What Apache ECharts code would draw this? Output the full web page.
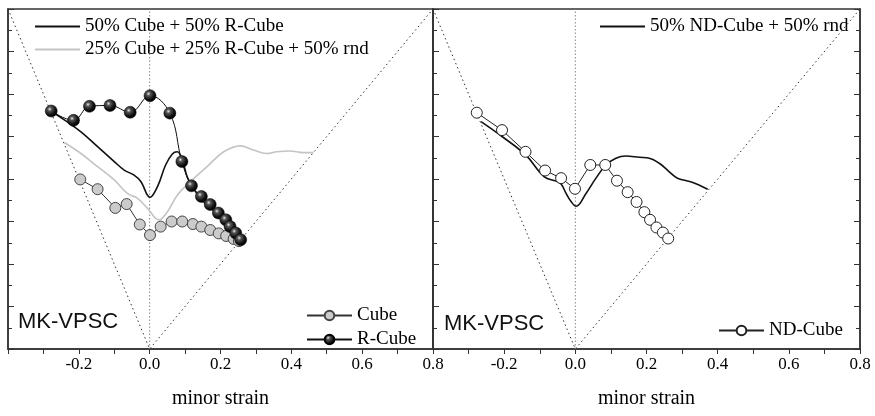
<!DOCTYPE html>
<html>
<head>
<meta charset="utf-8">
<script src="https://cdn.jsdelivr.net/npm/echarts@6.0.0/dist/echarts.min.js"></script>
<style>
  html, body { margin: 0; padding: 0; background: #fff; }
  #flc { width: 875px; height: 416px; }
</style>
</head>
<body>
<div id="flc"></div>
<script>
// left panel: Cube / R-Cube
var cubeX = [-0.196, -0.147, -0.097, -0.065, -0.028, 0.001, 0.031, 0.062, 0.092, 0.122, 0.146, 0.171, 0.195, 0.216, 0.237, 0.252];
var cubeY = [0.399, 0.376, 0.332, 0.341, 0.293, 0.268, 0.288, 0.300, 0.300, 0.294, 0.288, 0.280, 0.272, 0.266, 0.259, 0.254];

var rcubeX = [-0.278, -0.215, -0.170, -0.112, -0.055, 0.001, 0.057, 0.091, 0.118, 0.146, 0.171, 0.194, 0.215, 0.227, 0.243, 0.257];
var rcubeY = [0.560, 0.538, 0.571, 0.573, 0.557, 0.596, 0.555, 0.441, 0.384, 0.359, 0.340, 0.320, 0.304, 0.288, 0.273, 0.257];

var mixX = [-0.278, -0.241, -0.194, -0.147, -0.100, -0.072, -0.044, -0.025, 0.001, 0.022, 0.045, 0.064, 0.078, 0.092, 0.106, 0.120, 0.146, 0.171, 0.194, 0.215, 0.240, 0.257];
var mixY = [0.560, 0.539, 0.511, 0.476, 0.441, 0.421, 0.409, 0.394, 0.357, 0.382, 0.433, 0.459, 0.464, 0.445, 0.405, 0.382, 0.352, 0.333, 0.314, 0.297, 0.273, 0.257];

var rndX = [-0.241, -0.194, -0.147, -0.100, -0.063, -0.035, -0.006, 0.026, 0.050, 0.078, 0.115, 0.162, 0.209, 0.256, 0.293, 0.330, 0.359, 0.396, 0.433, 0.462];
var rndY = [0.486, 0.460, 0.429, 0.398, 0.366, 0.355, 0.331, 0.304, 0.323, 0.362, 0.394, 0.429, 0.464, 0.478, 0.468, 0.460, 0.464, 0.466, 0.462, 0.462];

// right panel: ND-Cube
var ndX = [-0.277, -0.206, -0.140, -0.085, -0.040, -0.001, 0.042, 0.084, 0.117, 0.147, 0.172, 0.194, 0.210, 0.228, 0.246, 0.261];
var ndY = [0.556, 0.515, 0.464, 0.420, 0.402, 0.377, 0.433, 0.433, 0.396, 0.369, 0.346, 0.322, 0.304, 0.286, 0.274, 0.260];

var ndMixX = [-0.265, -0.206, -0.139, -0.087, -0.054, -0.040, -0.026, -0.012, 0.002, 0.030, 0.058, 0.086, 0.114, 0.142, 0.180, 0.208, 0.236, 0.264, 0.287, 0.330, 0.372];
var ndMixY = [0.535, 0.500, 0.456, 0.405, 0.395, 0.388, 0.366, 0.347, 0.336, 0.366, 0.402, 0.433, 0.449, 0.454, 0.451, 0.449, 0.437, 0.417, 0.402, 0.392, 0.376];

// strain path guide lines (uniaxial, plane strain, equibiaxial)
var pathX = [-0.4, 0, 0.8];
var pathY = [0.8, 0, 0.8];
var planeX = [0, 0];
var planeY = [0, 0.8];

var xTicks = ['-0.2', '0.0', '0.2', '0.4', '0.6', '0.8'];

function pairs(xs, ys) {
  var out = [];
  for (var i = 0; i < xs.length; i++) out.push([xs[i], ys[i]]);
  return out;
}

var serif = 'Liberation Serif';
var sphere = {
  type: 'radial', x: 0.38, y: 0.35, r: 0.65,
  colorStops: [
    {offset: 0, color: '#e8e8e8'},
    {offset: 0.25, color: '#555'},
    {offset: 0.7, color: '#111'},
    {offset: 1, color: '#000'}
  ]
};

function xAxisFor(idx) {
  return {
    gridIndex: idx,
    type: 'value',
    min: -0.4,
    max: 0.8,
    interval: 0.2,
    name: 'minor strain',
    nameLocation: 'middle',
    nameGap: 40,
    nameTextStyle: {fontFamily: serif, fontSize: 20, color: '#000'},
    axisLine: {onZero: false, lineStyle: {color: '#333', width: 1.5}},
    axisTick: {show: true, length: 5, lineStyle: {color: '#333'}},
    minorTick: {show: true, splitNumber: 2, length: 5, lineStyle: {color: '#333'}},
    splitLine: {show: false},
    axisLabel: {
      showMinLabel: false,
      margin: 7,
      fontFamily: serif,
      fontSize: 17,
      color: '#000',
      formatter: function (v) {
        var s = v.toFixed(1);
        return xTicks.indexOf(s) >= 0 ? s : '';
      }
    }
  };
}

function yAxisFor(idx, pos) {
  return {
    gridIndex: idx,
    type: 'value',
    position: pos,
    min: 0,
    max: 0.8,
    interval: 0.1,
    axisLine: {show: true, onZero: false, lineStyle: {color: '#333', width: 1.5}},
    axisTick: {show: true, inside: true, length: 6, lineStyle: {color: '#333'}},
    minorTick: {show: true, splitNumber: 2, length: 4, lineStyle: {color: '#333'}},
    splitLine: {show: false},
    axisLabel: {show: false}
  };
}

function guide(idx, xs, ys, color, dash) {
  return {
    type: 'line',
    xAxisIndex: idx,
    yAxisIndex: idx === 0 ? 0 : 1,
    data: pairs(xs, ys),
    symbol: 'none',
    silent: true,
    lineStyle: {color: color, width: 1, type: dash},
    z: 1
  };
}

// plain line in the legend, no marker
function lineOnly(name) {
  return {name: name, itemStyle: {opacity: 0}};
}

var legendText = {fontFamily: serif, fontSize: 19, color: '#000'};

var chart = echarts.init(document.getElementById('flc'));
var option = {
  animation: false,
  backgroundColor: '#fff',
  grid: [
    {left: 8, right: 442, top: 9, bottom: 67, show: true, borderColor: '#333', borderWidth: 1.5},
    {left: 433, right: 15, top: 9, bottom: 67, show: true, borderColor: '#333', borderWidth: 1.5}
  ],
  title: [
    {text: 'MK-VPSC', left: 18, top: 311, padding: 0, textStyle: {fontFamily: 'Liberation Sans', fontSize: 22, fontWeight: 'normal', color: '#111'}},
    {text: 'MK-VPSC', left: 444, top: 313, padding: 0, textStyle: {fontFamily: 'Liberation Sans', fontSize: 22, fontWeight: 'normal', color: '#111'}}
  ],
  legend: [
    {
      data: [lineOnly('50% Cube + 50% R-Cube'), lineOnly('25% Cube + 25% R-Cube + 50% rnd')],
      orient: 'vertical', left: 34, top: 17, itemGap: 4, padding: 0,
      itemWidth: 45, itemHeight: 12, selectedMode: false,
      textStyle: legendText
    },
    {
      data: ['Cube', 'R-Cube'],
      orient: 'vertical', left: 306, top: 306, itemGap: 5, padding: 0,
      itemWidth: 45, itemHeight: 12, selectedMode: false,
      textStyle: legendText
    },
    {
      data: [lineOnly('50% ND-Cube + 50% rnd')],
      orient: 'vertical', left: 599, top: 17, padding: 0,
      itemWidth: 45, itemHeight: 12, selectedMode: false,
      textStyle: legendText
    },
    {
      data: ['ND-Cube'],
      orient: 'vertical', left: 718, top: 321, padding: 0,
      itemWidth: 45, itemHeight: 12, selectedMode: false,
      textStyle: legendText
    }
  ],
  xAxis: [xAxisFor(0), xAxisFor(1)],
  yAxis: [yAxisFor(0, 'left'), yAxisFor(1, 'left'), yAxisFor(1, 'right')],
  series: [
    guide(0, pathX, pathY, '#333', [1.5, 3]),
    guide(0, planeX, planeY, '#888', [1.5, 2]),
    guide(1, pathX, pathY, '#333', [1.5, 3]),
    guide(1, planeX, planeY, '#888', [1.5, 2]),
    {
      name: '25% Cube + 25% R-Cube + 50% rnd',
      type: 'line', xAxisIndex: 0, yAxisIndex: 0,
      data: pairs(rndX, rndY),
      symbol: 'none', smooth: 0.4,
      lineStyle: {color: '#c4c4c4', width: 1.6},
      itemStyle: {color: '#c4c4c4'},
      z: 2
    },
    {
      name: '50% Cube + 50% R-Cube',
      type: 'line', xAxisIndex: 0, yAxisIndex: 0,
      data: pairs(mixX, mixY),
      symbol: 'none', smooth: 0.4,
      lineStyle: {color: '#111', width: 1.6},
      itemStyle: {color: '#111'},
      z: 3
    },
    {
      name: 'Cube',
      type: 'line', xAxisIndex: 0, yAxisIndex: 0,
      data: pairs(cubeX, cubeY),
      symbol: 'circle', symbolSize: 11,
      lineStyle: {color: '#333', width: 1},
      itemStyle: {color: '#cbcbcb', borderColor: '#444', borderWidth: 1},
      z: 4
    },
    {
      name: 'R-Cube',
      type: 'line', xAxisIndex: 0, yAxisIndex: 0,
      data: pairs(rcubeX, rcubeY),
      symbol: 'circle', symbolSize: 12, smooth: 0.4,
      lineStyle: {color: '#111', width: 1},
      itemStyle: {color: sphere, borderColor: '#000', borderWidth: 0.5},
      z: 5
    },
    {
      name: '50% ND-Cube + 50% rnd',
      type: 'line', xAxisIndex: 1, yAxisIndex: 1,
      data: pairs(ndMixX, ndMixY),
      symbol: 'none', smooth: 0.4,
      lineStyle: {color: '#111', width: 1.6},
      itemStyle: {color: '#111'},
      z: 3
    },
    {
      name: 'ND-Cube',
      type: 'line', xAxisIndex: 1, yAxisIndex: 1,
      data: pairs(ndX, ndY),
      symbol: 'circle', symbolSize: 11,
      lineStyle: {color: '#222', width: 1},
      itemStyle: {color: '#fff', borderColor: '#222', borderWidth: 1},
      z: 4
    }
  ]
};
chart.setOption(option);
</script>
</body>
</html>
